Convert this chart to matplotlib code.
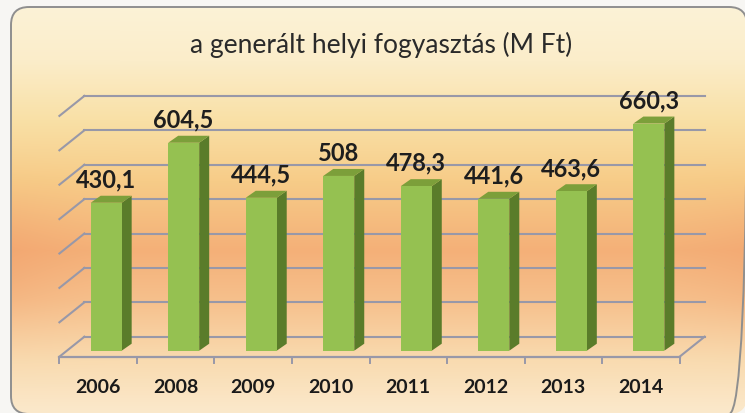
import numpy as np
import matplotlib
matplotlib.use("Agg")
import matplotlib.pyplot as plt
from matplotlib.patches import FancyBboxPatch, Polygon, Rectangle

# adatok
years = ["2006", "2008", "2009", "2010", "2011", "2012", "2013", "2014"]
values = [430.1, 604.5, 444.5, 508, 478.3, 441.6, 463.6, 660.3]
labels = ["430,1", "604,5", "444,5", "508", "478,3", "441,6", "463,6", "660,3"]
grid_values = [0, 100, 200, 300, 400, 500, 600, 700]
title = "a generált helyi fogyasztás (M Ft)"

W, H = 745, 413
fig = plt.figure(figsize=(W / 100, H / 100), dpi=100)
fig.patch.set_facecolor("#f7f6f3")

# hatter: lekerekitett keret szinatmenettel
bg = fig.add_axes([0, 0, 1, 1])
bg.set_xlim(0, W)
bg.set_ylim(H, 0)
bg.axis("off")

stops_y = [0, 60, 120, 180, 250, 300, 360, 413]
stops_c = np.array([
    (252, 243, 216), (251, 237, 202), (249, 224, 166), (247, 204, 136),
    (244, 176, 120), (246, 192, 140), (249, 219, 176), (251, 233, 204),
]) / 255.0
yy = np.arange(H)
col = np.stack([np.interp(yy, stops_y, stops_c[:, k]) for k in range(3)], axis=1)
img = np.repeat(col[:, None, :], W, axis=1)
# a bal es jobb szel narancsosabb
xx = np.arange(W)
edge = np.clip(1 - xx / 120.0, 0, 1) ** 1.5 + 0.6 * np.clip((xx - 640) / 105.0, 0, 1) ** 1.5
band = np.exp(-((yy - 260) / 60.0) ** 2)
tint = np.array([240, 150, 100]) / 255.0
amt = 0.35 * band[:, None] * edge[None, :]
img = img * (1 - amt[..., None]) + tint * amt[..., None]

frame = FancyBboxPatch((11, 7), 736, 407, boxstyle="round,pad=0,rounding_size=18",
                       facecolor="none", edgecolor="#8f8f8f", linewidth=1.4, zorder=3)
bg.add_patch(frame)
im = bg.imshow(img, extent=(0, W, H, 0), zorder=1, aspect="auto")
im.set_clip_path(frame)

fig.text(381 / W, 1 - 53 / H, title, ha="center", va="baseline",
         fontsize=19, family="Lato", color="#2a2a2a")

# fo tengely (a hasabok elolapja ebben a rendszerben van)
ax = fig.add_axes([67.4 / W, 62.3 / H, 620.2 / W, 240.8 / H])
ax.set_xlim(-0.5, len(years) - 0.5)
ax.set_ylim(0, 700)
ax.axis("off")
ax.patch.set_alpha(0)

def px(dx, dy):
    inv = ax.transData.inverted()
    p0 = inv.transform((0, 0))
    p1 = inv.transform((dx, dy))
    return p1 - p0

back = px(17, 14)
front = px(-8, -6)
depth = px(10, 7)
x0, x1 = -0.5, len(years) - 0.5
gcol = "#9898a8"

for g in grid_values:
    ax.plot([x0 + back[0], x1 + back[0]], [g + back[1], g + back[1]],
            color=gcol, lw=1.5, zorder=1, clip_on=False)
    ax.plot([x0 + front[0], x0 + back[0]], [g + front[1], g + back[1]],
            color=gcol, lw=1.5, zorder=1, clip_on=False)

# padlo
ax.plot([x0 + front[0], x1 + front[0]], [front[1], front[1]], color=gcol, lw=1.6,
        zorder=1, clip_on=False)
ax.plot([x1 + front[0], x1 + back[0]], [front[1], back[1]], color=gcol, lw=1.5,
        zorder=1, clip_on=False)
tick = px(0, -6)
for t in np.arange(len(years) + 1) - 0.5:
    ax.plot([t + front[0], t + front[0]], [front[1], front[1] + tick[1]],
            color=gcol, lw=1.4, zorder=1, clip_on=False)

bw = 0.4
for i, v in enumerate(values):
    l, r = i - bw / 2, i + bw / 2
    ax.add_patch(Polygon([(r, 0), (r, v), (r + depth[0], v + depth[1]),
                          (r + depth[0], depth[1])], closed=True,
                         facecolor="#5a7c2a", edgecolor="none", zorder=3, clip_on=False))
    ax.add_patch(Polygon([(l, v), (r, v), (r + depth[0], v + depth[1]),
                          (l + depth[0], v + depth[1])], closed=True,
                         facecolor="#7c9f3a", edgecolor="none", zorder=3, clip_on=False))
    ax.add_patch(Rectangle((l, 0), bw, v, facecolor="#95c151", edgecolor="none",
                           zorder=4, clip_on=False))
    ax.annotate(labels[i], (i, v), xytext=(0, 11), textcoords="offset points",
                ha="center", va="baseline", fontsize=17, fontweight="bold",
                family="Lato", color="#1e1e1e", zorder=5, annotation_clip=False)
    ax.annotate(years[i], (i, 0), xytext=(-5.8, -30.5), textcoords="offset points",
                ha="center", va="baseline", fontsize=14, fontweight="bold",
                family="Lato", color="#1a1a1a", zorder=5, annotation_clip=False)

fig.savefig("out.png", dpi=100)
